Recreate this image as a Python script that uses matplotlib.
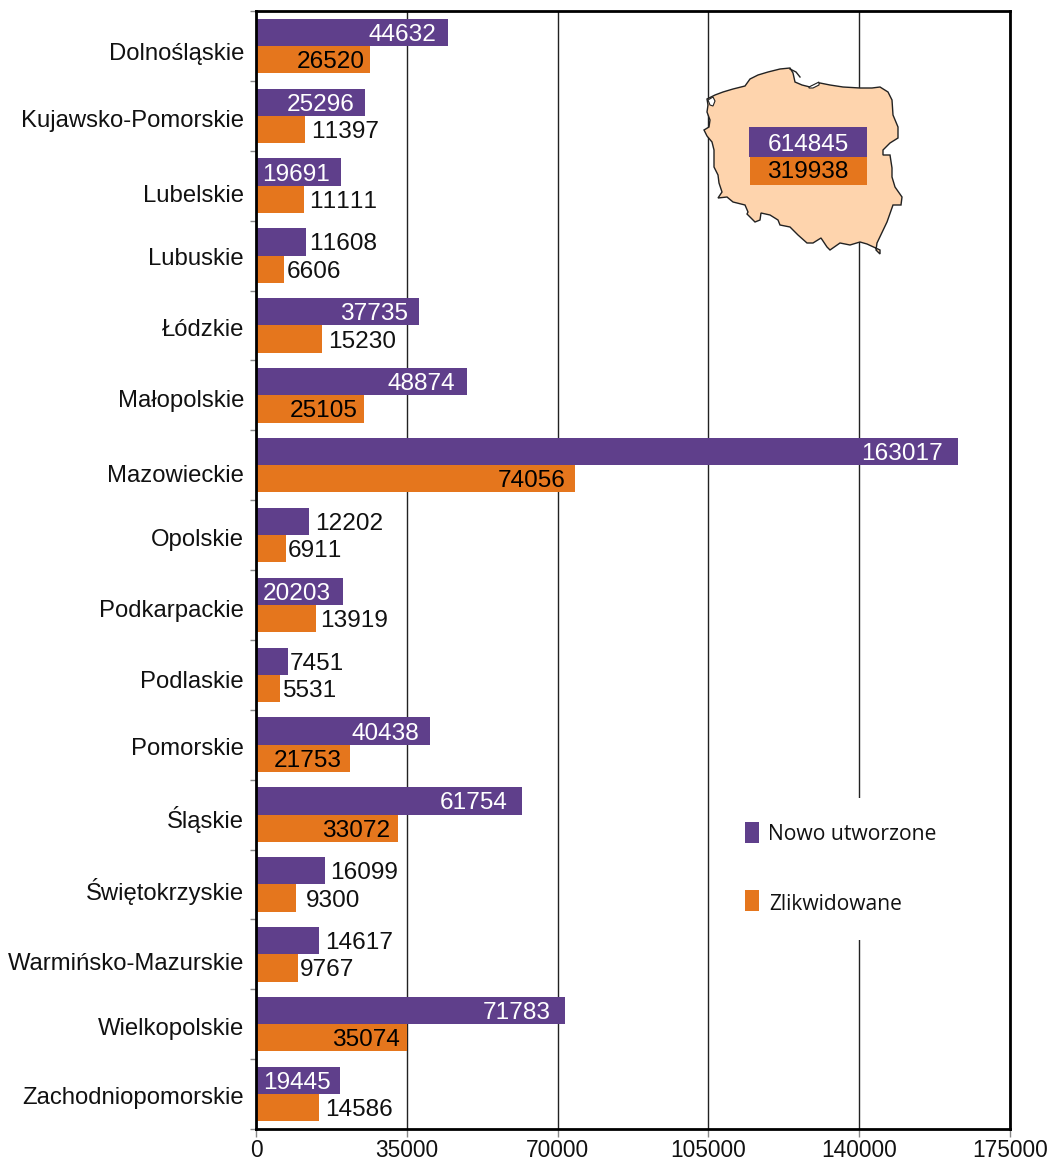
import matplotlib
matplotlib.use('Agg')
import matplotlib.pyplot as plt
from matplotlib.patches import Polygon, Rectangle

regions = ['Dolnośląskie', 'Kujawsko-Pomorskie', 'Lubelskie', 'Lubuskie', 'Łódzkie', 'Małopolskie',
           'Mazowieckie', 'Opolskie', 'Podkarpackie', 'Podlaskie', 'Pomorskie', 'Śląskie',
           'Świętokrzyskie', 'Warmińsko-Mazurskie', 'Wielkopolskie', 'Zachodniopomorskie']
created = [44632, 25296, 19691, 11608, 37735, 48874, 163017, 12202,
           20203, 7451, 40438, 61754, 16099, 14617, 71783, 19445]
closed = [26520, 11397, 11111, 6606, 15230, 25105, 74056, 6911,
          13919, 5531, 21753, 33072, 9300, 9767, 35074, 14586]
total_created = 614845
total_closed = 319938
x_ticks = [0, 35000, 70000, 105000, 140000, 175000]

# hand placed in the original, pixels from the bar end (minus = inside the bar)
created_gap = [-12, -10, -11, 3, -11, -11, -15, 7, -12, 2, -11, -14, 5, 6, -15, -9]
closed_gap = [-6, 6, 5, 2, 7, -7, -9, 2, 4, 2, -8, -8, 10, 2, -7, 6]
# category label centre relative to the group centre, pixels
label_shift = [8, 5, 10, 3, 5, 6, 11, 5, 6, 7, 4, 5, 7, 10, 5, 4]

# map outline in picture pixels
map_x = [790, 780, 768, 758, 750, 745, 733, 723, 715, 707, 708, 707, 710, 709, 704, 707, 712, 714, 714, 714,
         718, 719, 722, 718, 727, 733, 745, 748, 747, 755, 760, 761, 770, 778, 780, 790, 798, 807, 813, 821,
         827, 830, 840, 850, 860, 867, 880, 880, 876, 877, 887, 893, 901, 902, 895, 892, 892, 890, 883, 883,
         890, 898, 898, 893, 892, 888, 880, 872, 860, 843, 830, 820, 810, 802, 795, 793]
map_y = [68, 69, 72, 75, 79, 86, 89, 92, 95, 99, 105, 112, 120, 127, 130, 136, 142, 150, 158, 167,
         175, 183, 192, 198, 197, 202, 205, 212, 214, 222, 220, 213, 215, 220, 225, 227, 235, 243, 243, 238,
         247, 250, 243, 245, 242, 244, 250, 254, 250, 243, 222, 205, 205, 197, 187, 177, 168, 155, 155, 150,
         143, 138, 127, 115, 100, 92, 87, 88, 88, 87, 85, 83, 87, 85, 82, 73]
hel_x = [790, 796, 800]
hel_y = [69, 72, 77]
spit_x = [809, 815, 819, 819, 813, 809]
spit_y = [87, 84, 82, 85, 88, 88]
lagoon_x = [708, 713, 715, 713, 710]
lagoon_y = [100, 97, 101, 106, 105]

purple = '#5f3f8b'
orange = '#e5761d'
W, H = 1047, 1160
left, right, top, bottom = 256, 1010, 11, 1129

plt.rcParams['font.family'] = ['Liberation Sans', 'DejaVu Sans']
plt.rcParams['text.kerning_factor'] = 6
fig = plt.figure(figsize=(W / 100, H / 100), dpi=100)
ax = fig.add_axes([left / W, 1 - bottom / H, (right - left) / W, (bottom - top) / H])

n = len(regions)
ax.set_xlim(0, 175000)
ax.set_ylim(n, 0)
ypos = [i + 0.5 for i in range(n)]
h = 0.39

ax.xaxis.grid(True, color='#222222', lw=1)
ax.set_axisbelow(True)
ax.barh([y - h / 2 for y in ypos], created, height=h, color=purple, zorder=2)
ax.barh([y + h / 2 for y in ypos], closed, height=h, color=orange, zorder=2)

for i in range(n):
    for val, gap, sign, txt_in in ((created[i], created_gap[i], -1, 'white'), (closed[i], closed_gap[i], 1, 'black')):
        col = txt_in if gap < 0 else '#111111'
        ax.annotate(str(val), (val, ypos[i] + sign * h / 2), xytext=(gap * 0.72, -2.5 * 0.72), textcoords='offset points',
                    ha='right' if gap < 0 else 'left', va='center', fontsize=17.6, color=col, zorder=4)
    ax.annotate(regions[i], (0, ypos[i]), xytext=(-12 * 0.72, -label_shift[i] * 0.72), textcoords='offset points',
                ha='right', va='center', fontsize=17.2, color='#111111', annotation_clip=False)

ax.set_xticks(x_ticks)
ax.set_xticklabels([str(v) for v in x_ticks], fontsize=16.4, color='#111111')
ax.set_yticks(range(n + 1))
ax.set_yticklabels([])
ax.tick_params(axis='x', length=6, width=1, color='#888888', pad=1)
ax.tick_params(axis='y', length=4, width=1, color='#888888')
for s in ('left', 'top', 'bottom', 'right'):
    ax.spines[s].set_linewidth(2)
    ax.spines[s].set_color('black')

# overlay in picture pixels for the map and the legend
ov = fig.add_axes([0, 0, 1, 1])
ov.set_xlim(0, W)
ov.set_ylim(H, 0)
ov.axis('off')
ov.patch.set_alpha(0)

ov.add_patch(Polygon(list(zip(map_x, map_y)), closed=True, fc='#fed4ad', ec='#222222', lw=1))
ov.plot(hel_x, hel_y, color='#222222', lw=1)
ov.add_patch(Polygon(list(zip(spit_x, spit_y)), closed=True, fc='white', ec='#222222', lw=0.8))
ov.add_patch(Polygon(list(zip(lagoon_x, lagoon_y)), closed=True, fc='white', ec='#222222', lw=0.8))
ov.add_patch(Rectangle((749, 127), 118, 30, fc=purple, ec='none'))
ov.add_patch(Rectangle((750, 157), 117, 28, fc=orange, ec='none'))
ov.text(808, 145, str(total_created), color='white', fontsize=17.6, ha='center', va='center')
ov.text(808, 172, str(total_closed), color='black', fontsize=17.6, ha='center', va='center')

ov.add_patch(Rectangle((725, 798), 230, 142, fc='white', ec='none'))
ov.add_patch(Rectangle((745, 822), 14, 21, fc=purple, ec='none'))
ov.add_patch(Rectangle((745, 890), 14, 21, fc=orange, ec='none'))
ov.text(768, 835, 'Nowo utworzone', family='Open Sans', fontsize=15.2, color='#111111', va='center')
ov.text(769, 904, 'Zlikwidowane', family='Open Sans', fontsize=15.1, color='#111111', va='center')

fig.savefig('out.png', dpi=100)
